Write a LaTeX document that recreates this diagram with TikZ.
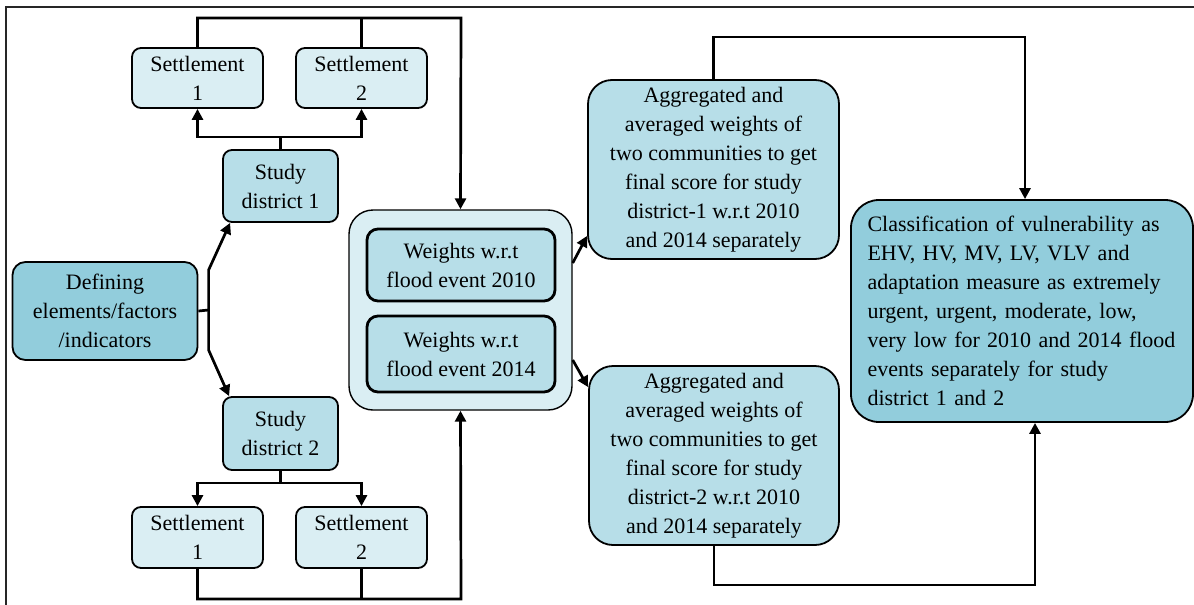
\documentclass[tikz,border=0pt]{standalone}
\usepackage{fontspec}
\setmainfont{Liberation Serif}
\usetikzlibrary{arrows.meta}
\definecolor{paleblue}{HTML}{DAEEF3}
\definecolor{midblue}{HTML}{B7DEE8}
\definecolor{deepblue}{HTML}{92CDDC}
\tikzset{
  box/.style={draw=black, line width=1.8pt, rounded corners=#1, align=center,
    inner sep=0pt, font=\fontsize{22}{29}\selectfont},
  box/.default=9pt,
  conn/.style={line width=2.7pt, draw=black},
  arr/.style={conn, -{Triangle[length=11pt,width=11pt]}},
}
\begin{document}
\begin{tikzpicture}[x=1pt,y=-1pt]
\useasboundingbox (0,0) rectangle (1194,605);
% frame
\draw[line width=1.8pt, black!85] (6,605) -- (6,7) -- (1194,7);

% left column
\node[box, fill=paleblue, minimum width=131, minimum height=60] (s1t) at (197.5,78) {Settlement\\1};
\node[box, fill=paleblue, minimum width=131, minimum height=60] (s2t) at (361.5,78) {Settlement\\2};
\node[box, fill=midblue, minimum width=115, minimum height=72] (sd1) at (280.5,186) {Study\\district 1};
\node[box=13pt, fill=deepblue, minimum width=185, minimum height=98] (def) at (105,311) {Defining\\elements/factors\\/indicators};
\node[box, fill=midblue, minimum width=115, minimum height=73] (sd2) at (280.5,433.5) {Study\\district 2};
\node[box, fill=paleblue, minimum width=131, minimum height=61] (s1b) at (197.5,537.5) {Settlement\\1};
\node[box, fill=paleblue, minimum width=131, minimum height=61] (s2b) at (361.5,537.5) {Settlement\\2};

% weights container
\node[box=24pt, fill=paleblue, line width=1.4pt, minimum width=223, minimum height=200] (cont) at (460.5,310) {};
\node[box=11pt, fill=midblue, line width=2.8pt, minimum width=188, minimum height=72] (w1) at (461,265) {Weights w.r.t\\flood event 2010};
\node[box=11pt, fill=midblue, line width=2.8pt, minimum width=188, minimum height=76] (w2) at (461,354) {Weights w.r.t\\flood event 2014};

% aggregation
\node[box=24pt, fill=midblue, minimum width=251, minimum height=179] (agg1) at (713.5,169.5)
  {Aggregated and\\averaged weights of\\two communities to get\\final score for study\\district-1 w.r.t 2010\\and 2014 separately};
\node[box=24pt, fill=midblue, minimum width=250, minimum height=179] (agg2) at (714,455.5)
  {Aggregated and\\averaged weights of\\two communities to get\\final score for study\\district-2 w.r.t 2010\\and 2014 separately};

% classification
\node[box=28pt, fill=deepblue, align=left, text width=309, minimum width=342, minimum height=222] (cls) at (1022,311)
  {Classification of vulnerability as\\EHV, HV, MV, LV, VLV and\\adaptation measure as extremely\\urgent, urgent, moderate, low,\\very low for 2010 and 2014 flood\\events separately for study\\district 1 and 2};

% bus coordinates
\coordinate (topbus) at (461,18);
\coordinate (botbus) at (461,599);
\coordinate (b1) at (280.5,137);
\coordinate (b2) at (280.5,483);
\coordinate (fork) at (208.6,310);
\coordinate (fu) at (208.6,270);
\coordinate (fd) at (208.6,350);
\coordinate (rtop) at (1025,37);
\coordinate (rbot) at (1035,585);

% settlements (top) to weights
\draw[arr] (s1t.north) |- (topbus) -- (cont.north);
\draw[conn] (s2t.north) -- (s2t.north |- topbus);
% study district 1 to settlements
\draw[conn] (sd1.north) -- (b1);
\draw[arr] (b1) -| (s1t.south);
\draw[arr] (b1) -| (s2t.south);
% defining to study districts
\draw[conn] (def.east) -- (fork);
\draw[arr] (fork) -- (fu) -- ([xshift=8]sd1.south west);
\draw[arr] (fork) -- (fd) -- ([xshift=7]sd2.north west);
% study district 2 to settlements
\draw[conn] (sd2.south) -- (b2);
\draw[arr] (b2) -| (s1b.north);
\draw[arr] (b2) -| (s2b.north);
% settlements (bottom) to weights
\draw[arr] (s1b.south) |- (botbus) -- (cont.south);
\draw[conn] (s2b.south) -- (s2b.south |- botbus);
% weights to aggregation
\draw[arr] ([yshift=47]cont.east) -- ([yshift=24]agg1.south west);
\draw[arr] ([yshift=-50]cont.east) -- ([yshift=-22]agg2.north west);
% aggregation to classification
\draw[arr] (agg1.north) |- (rtop) -- (rtop |- cls.north);
\draw[arr] (agg2.south) |- (rbot) -- (rbot |- cls.south);
\end{tikzpicture}
\end{document}
